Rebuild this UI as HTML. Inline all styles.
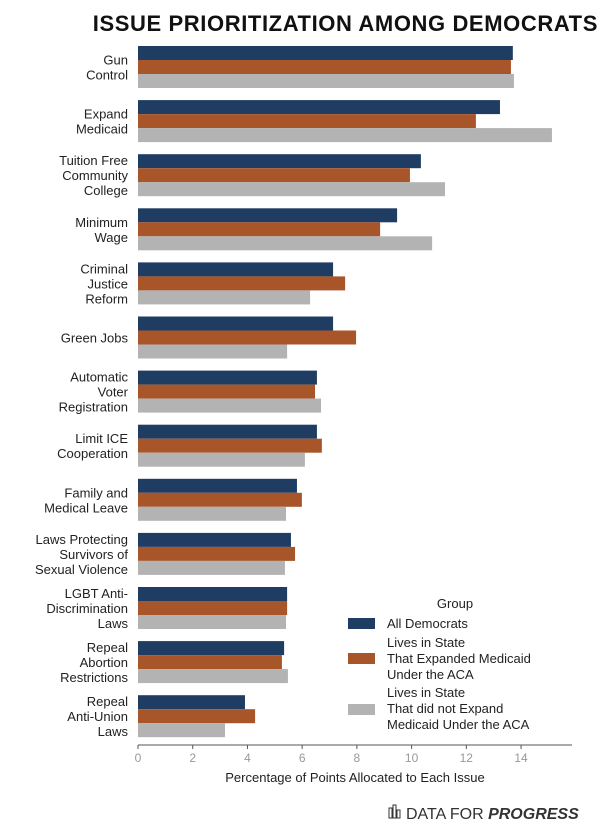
<!DOCTYPE html>
<html><head><meta charset="utf-8"><style>
body{margin:0;background:#fff;font-family:"Liberation Sans",sans-serif;}
svg text{font-family:"Liberation Sans",sans-serif;}
</style></head><body>
<svg id="chart" width="600" height="824" viewBox="0 0 600 824">
<text x="598" y="31" text-anchor="end" font-size="22" letter-spacing="0.6" font-weight="bold" fill="#111">ISSUE PRIORITIZATION AMONG DEMOCRATS</text>
<g id="bars"></g><g id="labels"></g><g id="axis"></g>
<text x="355" y="782" text-anchor="middle" font-size="13" fill="#222">Percentage of Points Allocated to Each Issue</text>
<g>
<text x="455" y="608" text-anchor="middle" font-size="13" fill="#222">Group</text>
<rect x="348" y="618" width="27" height="11" fill="#1f3d63"/>
<text x="387" y="628" font-size="13" fill="#222">All Democrats</text>
<rect x="348" y="653" width="27" height="11" fill="#a8552a"/>
<text font-size="13" fill="#222"><tspan x="387" y="647">Lives in State</tspan><tspan x="387" y="663">That Expanded Medicaid</tspan><tspan x="387" y="679">Under the ACA</tspan></text>
<rect x="348" y="704" width="27" height="11" fill="#b3b3b3"/>
<text font-size="13" fill="#222"><tspan x="387" y="697">Lives in State</tspan><tspan x="387" y="713">That did not Expand</tspan><tspan x="387" y="729">Medicaid Under the ACA</tspan></text>
</g>
<g>
<rect x="389" y="808" width="3" height="10" fill="none" stroke="#333"/><rect x="393" y="805" width="3" height="13" fill="none" stroke="#333"/><rect x="397" y="810" width="3" height="8" fill="none" stroke="#333"/>
<text x="406" y="819" font-size="16" fill="#333">DATA FOR <tspan font-weight="bold" font-style="italic">PROGRESS</tspan></text>
</g>
</svg>
<script>
const categories=[["Gun","Control"],["Expand","Medicaid"],["Tuition Free","Community","College"],["Minimum","Wage"],["Criminal","Justice","Reform"],["Green Jobs"],["Automatic","Voter","Registration"],["Limit ICE","Cooperation"],["Family and","Medical Leave"],["Laws Protecting","Survivors of","Sexual Violence"],["LGBT Anti-","Discrimination","Laws"],["Repeal","Abortion","Restrictions"],["Repeal","Anti-Union","Laws"]];
const allDems=[13.7,13.23,10.34,9.47,7.13,7.13,6.54,6.54,5.81,5.59,5.45,5.34,3.91];
const expanded=[13.63,12.35,9.94,8.85,7.57,7.97,6.47,6.72,5.99,5.74,5.45,5.26,4.28];
const notExpanded=[13.74,15.13,11.22,10.75,6.29,5.45,6.69,6.10,5.41,5.37,5.41,5.48,3.18];
const ticks=[0,2,4,6,8,10,12,14];
const NS="http://www.w3.org/2000/svg";
const x0=138,pxPer=27.36,top0=46,step=54.1,bh=14;
const xs=v=>x0+v*pxPer;
const series=[[allDems,"#1f3d63","all"],[expanded,"#a8552a","expanded"],[notExpanded,"#b3b3b3","not-expanded"]];
const gb=document.getElementById("bars"),gl=document.getElementById("labels"),ga=document.getElementById("axis");
categories.forEach((c,i)=>{
 const y=top0+i*step;
 series.forEach((s,j)=>{
  const r=document.createElementNS(NS,"rect");
  r.setAttribute("x",x0);r.setAttribute("y",y+j*bh);
  r.setAttribute("width",Math.max(0,xs(s[0][i])-x0));r.setAttribute("height",bh);
  r.setAttribute("fill",s[1]);
  
  
  gb.appendChild(r);
 });
 const t=document.createElementNS(NS,"text");
 t.setAttribute("text-anchor","end");t.setAttribute("font-size","13");t.setAttribute("fill","#222");
 const cy=y+21,n=c.length;
 c.forEach((line,k)=>{const sp=document.createElementNS(NS,"tspan");sp.setAttribute("x",128);sp.setAttribute("y",cy+(k-(n-1)/2)*15+5);sp.textContent=line;t.appendChild(sp);});
 
 
 gl.appendChild(t);
});
const ax=document.createElementNS(NS,"line");
ax.setAttribute("x1",x0);ax.setAttribute("x2",572);ax.setAttribute("y1",745);ax.setAttribute("y2",745);ax.setAttribute("stroke","#555");


ga.appendChild(ax);
ticks.forEach(v=>{
 const l=document.createElementNS(NS,"line");
 l.setAttribute("x1",xs(v));l.setAttribute("x2",xs(v));l.setAttribute("y1",745);l.setAttribute("y2",749);l.setAttribute("stroke","#555");
 
 
 ga.appendChild(l);
 const t=document.createElementNS(NS,"text");
 t.setAttribute("x",xs(v));t.setAttribute("y",762);t.setAttribute("text-anchor","middle");t.setAttribute("font-size","12");t.setAttribute("fill","#999");
 t.textContent=v;
 
 
 ga.appendChild(t);
});
</script>
</body></html>
